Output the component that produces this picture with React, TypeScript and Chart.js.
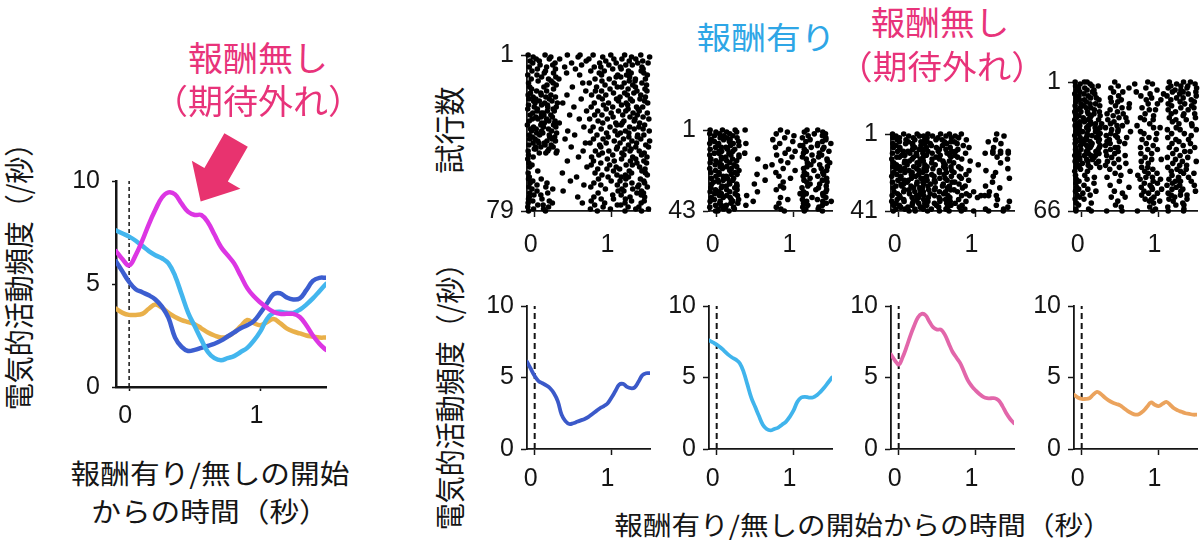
import React, { useEffect, useRef } from 'react';
import { Chart, registerables } from 'chart.js';

Chart.register(...registerables);

// ---------- data ----------
const TIME = [-0.1, -0.05, 0, 0.05, 0.1, 0.15, 0.2, 0.25, 0.3, 0.35, 0.4, 0.45, 0.5, 0.55, 0.6, 0.65, 0.7, 0.75, 0.8, 0.85, 0.9, 0.95, 1, 1.05, 1.1, 1.15, 1.2, 1.25, 1.3, 1.35, 1.4, 1.45, 1.5];

const RATE_REWARD_DARK = [6.1, 5.6, 5.1, 4.75, 4.6, 4.45, 4.25, 3.9, 3.35, 2.4, 1.95, 1.75, 1.8, 1.9, 2.0, 2.1, 2.25, 2.45, 2.65, 2.85, 3.0, 3.2, 3.6, 4.05, 4.5, 4.55, 4.35, 4.25, 4.3, 4.7, 5.15, 5.3, 5.3];
const RATE_REWARD_LIGHT = [7.6, 7.45, 7.3, 7.1, 6.85, 6.6, 6.4, 6.25, 6.0, 5.4, 4.5, 3.6, 2.95, 2.3, 1.7, 1.4, 1.3, 1.4, 1.5, 1.7, 1.9, 2.25, 2.7, 3.3, 3.6, 3.65, 3.6, 3.6, 3.75, 4.0, 4.3, 4.65, 5.0];
const RATE_NOREWARD_PINK = [6.6, 6.2, 5.9, 6.4, 7.1, 7.9, 8.6, 9.2, 9.45, 9.35, 8.9, 8.5, 8.35, 8.35, 8.0, 7.4, 6.8, 6.4, 6.0, 5.4, 4.8, 4.4, 4.1, 3.85, 3.65, 3.55, 3.55, 3.55, 3.4, 3.0, 2.5, 2.1, 1.8];
const RATE_NOREWARD_ORANGE = [3.8, 3.6, 3.5, 3.5, 3.55, 3.8, 4.0, 3.85, 3.6, 3.4, 3.25, 3.15, 3.05, 2.85, 2.65, 2.5, 2.4, 2.45, 2.65, 2.95, 3.25, 3.1, 3.0, 3.15, 3.3, 3.1, 2.85, 2.7, 2.6, 2.5, 2.45, 2.4, 2.4];

const X_TICKS = [0, 1];
const RATE_TICKS = [0, 5, 10];
const TRIAL_COUNTS = [79, 43, 41, 66];

// raster rows: one string per trial, 32 bins of 0.05 s from -0.1 s; a digit d = spike at bin start + d*5 ms
const RASTER_1 = [
  "3...7... ..5..8.. .2...8.. .4...6..", ".6....2. .....3.. ...7.... ...2...9", "..4..8.. 5....... 1.....6. 7...3...",
  "8..2.... .......4 ....5... ..6...1.", ".5.....3 ...6.... ..9....2 ....8..5", "...4..7. ......2. .....3.. .7.4....",
  "6....1.. .8...... .5.2.... 3....9..", "..7....4 ....6... ......3. 5.....2.", ".3..8... ........ 6...1... ..4..7..",
  "....5.9. ..3..... ..8..... ...1..4.", "2.6..... .....7.. ...4...6 .9.....3", "...8...5 ........ .......2 4.7.....",
  ".1...6.. 3....... .7...4.. ....2.8.", "..9...3. ........ ...5.... ..6.1...", "4.....8. ......5. 2.....7. .3...9..",
  ".....2.6 ........ ....3... ...5...1", "7...4... ...8.... ..1....5 6...2...", ".2....9. ........ .....6.. ..3...7.",
  "..5..1.. .......3 .8.4.... ....6..2", "9..6.... ........ ......5. .4.8....", "3..7..2. ..4..... 8...5... ..1..6..",
  ".6..9..4 ........ ..7..... 2.....8.", "5.3..8.. ......1. ...6...3 ..9..4..", ".7.2..5. ........ .......8 ...4..6.",
  "..1.6..9 .3...... .5...2.. .8.....4", "4..8.3.. ........ ...9.... 6.2.....", ".9...4.6 ....2... 7.....3. ....5.1.",
  "2.7...8. ........ ....6... ..3.9...", "..6..3.1 .......5 ..4....8 .7...2..", ".5.72... ........ .....9.. ...6...3",
  "8...4.2. ...1.... .6.5.... 9...7...", "..37..6. ........ ......4. ..8...2.", ".48..1.. .....6.. 3...9... ....1..7",
  "6....7.3 ........ ..5..... .2.9....", "...85..2 4....... ...7...1 8....3..", "1..6..9. ........ .......4 5.....6.",
  ".7..3..5 ......8. .2...6.. ..7..1..", "9.4..6.. ........ ...3.... ...9..2.", ".2.8..4. ..6..... 5.....9. .6.....8",
  "..5.1..7 ........ ....7... 3.5.....", "6..3.8.. ....4... ..2....6 ....8.4.", ".4...9.2 ........ .....1.. ..5.7...",
  "7.1...5. .9...... .3.8.... .1...6..", "..8..2.4 ........ ......7. ...3...9", ".6.15... .......2 4...6... 2...5...",
  "5...7.3. ........ ..9..... ..4...9.", "..26..8. ...5.... ...2...5 ....3..6", ".93..7.. ........ .......3 .5.1....",
  "3....4.8 ......6. .8...3.. ..8..2..", "...29..6 ........ ...6.... 7.....5.", "4....... ........ ..7...3. .2...8..",
  ".6...... .....4.. 8....... ...5...2", "2....... ........ ....9... 6...3...", "........ ..5..... .3....7. ..9...4.",
  "5....... ........ ...2.... ....6..1", ".3...... ........ 7....5.. .8.4....", "7....... .......6 .......2 .....3..",
  "........ ........ ..4.8... 1.....7.", "..8..... ........ ......5. ..6..9..", "3....... .2...... .7...... ...2..8.",
  "........ ........ ...5...4 .6.....3", "6....... ....9... .....1.. 5.4.....", "4..7.... ........ ..6..... .7...5..",
  ".5...... ...3.... .....9.. 2.....4.", "8....2.. ........ .4...... ...3..6.", "..6..... ......8. ...2...5 .6...1..",
  "5...9... ........ 6....... ....8..3", ".3....7. ........ ....4... 7..5....", "..6..... .4...... .......7 .2...8..",
  "7....4.. ........ ..5..... ....6.3.", ".8.6.... ........ ......3. 5....7..", "6....... .....2.. .4...... ..8...6.",
  "4..9.... ........ ...3..5. .6......", ".5...8.. ........ 7....... ...2..5.", "3.....6. ......4. ....2... .5...7..",
  "..8.2... ........ .6.....5 4.......", "2....6.. ........ ...8.... ..3..1..", ".7..3... ........ 5....7.. ....3..6",
  "4...8... ........ ..3..... .5...8..",
];

const RASTER_2 = [
  "3..5..8. .4...... ..6..... .5..3...", ".8..6..2 ........ ....4... 8....6..", "2.7..4.. ........ .5...... ...4..3.",
  ".4.8..2. ........ ......1. .8...5..", "..9.6..3 ........ ...7.... 3.....4.", "6..8.5.. ........ 6....... ..3...4.",
  ".4...3.7 ........ .....8.. .2...5..", "2.5...3. .6...... ..4..... ....3..7", "..3..6.8 ........ .......7 4...2...",
  ".7.24... ........ .3...... ..6..9..", "3...8.7. ........ ....7... 8....6..", "..63..2. ........ ......4. .3.....2",
  ".46..2.. .3...... ...8.... 6...7...", "2....7.8 ........ .6...... ..8..3..", "...24..8 ........ .....6.. 3...5...",
  "5..3..1. ....7... ........ .3....7.", ".8..6..2 ........ ..7..... ...2..8.", "3.7..4.. ........ ....5... .6.....4",
  ".6.2..5. ........ 4....... ..5.8...", "..9.6..2 ......7. ........ .5....8.", "2..5.8.. ........ ...3.... 6....2..",
  ".7...4.8 ........ ......4. ...3..6.", "5.6...7. ........ .4...... 8....6..", "..6..8.3 ....5... ........ .4...8..",
  ".8.75... ........ ..2..... 5...3...", "6...8.4. ........ .....2.. ..3...6.", "..37..2. ......6. ........ 7....5..",
  ".25..3.. ........ ...3.... .4....7.", "7....4.2 ...8.... ........ ..3.8...", "...45..3 ........ ..6..... .7....5.",
  "5..2..7. ........ ...4.... 2...5...", ".7..6..3 ........ .5...... ...8..6.", "3.5..4.. ....6... ........ 6.....4.",
  ".5.2..8. ........ .......7 .3...6..", "..7.6..4 .8...... ........ 5....7..", "6..7.5.. ........ ..6..... ..8...4.",
  ".4...8.7 ........ ....5... 3...2...", "3.9...2. ...5.... ........ .4...6.8", "..8..7.5 ........ ..2..... 6.....5.",
  ".7.25... .6...... ........ .7...5..", "2...3.4. ........ .5...... 4...6...", "..48..6. ........ ..7..... .2..4...",
  ".73..2.. ........ ...6.... 8....5..",
];

const RASTER_3 = [
  "4..3..8. .6..9..2 ..3..... ...5....", ".3..6..4 5.8...3. 7....... .....4..", "5.2..8.. .4..2..7 .6...... ........",
  ".6.9..2. 8..7.3.. ...6.... ...2....", "..2.5..8 .4...9.6 5....... .3......", "5..8.6.. 7.2...5. .2...... ....6...",
  ".3...7.8 ..5..4.. ..8..... ........", "6.3...2. .2.8...4 ....3... ..7.....", "..3..6.4 5...6.3. .4...... ........",
  ".7.24... .6..3..8 8....... ..5.5.5.", "4...9.6. 3.7...6. ...4.... 5.5.5.5.", "..86..7. .2..8..3 6....... ........",
  ".52..9.. 4..7...6 .3...... ...6....", "2....5.6 ..7.6... ..4..... ......3.", "...68..7 4....5.2 ....6... ........",
  "7..5..8. ..6..7.. 3....... ....5...", ".4..2..3 8..5..1. ......7. ........", "5.3..9.. .4...7.6 .6...... ........",
  ".3.5..7. 6.9...2. ..2..... ......4.", "..4.7..3 .2..6..8 ....3... 7.......", "7..6.5.. 3...6.4. 4....... ...2....",
  ".5...3.2 ..6..8.. ...5.... ........", "2.6...4. .3.2...7 .8...... ..6.....", "..5..3.8 6...7.1. ..3..... ......8.",
  ".8.55... .4.3..6. ....2... ........", "4...2.8. 3..5...9 6....... ..4.....", "..63..7. 5.3..6.. .7...... ........",
  ".38..2.. .6...4.2 ...3.... 6.......", "6....9.5 2..5..7. ..6..... ....3...", "...57..6 .8.3...5 4....... ........",
  "8..3..2. 4...6.2. .3...5.. .6......", ".7..8..6 ..2..7.. ...6.... ........", "3.2...7. 5..3..8. ..4.4..4 44.4....",
  "..4..5.2 .7..5..3 ......5. ........", ".6.3..7. 5...8.2. .6...... ...7....", "2..4.8.. .6..7..4 ...5.... ......8.",
  ".3...6.2 8..3..5. 7....... ........", "7.2..5.. .3.8...6 ..5..... ...4....", "..5.4..6 2...4.7. .8...... ......4.",
  ".3.6..2. 4.5...3. ...2.... 6....3..", "6...7.3. .5..6..1 ..3..5.. .4...2..",
];

const RASTER_4 = [
  "3.74.... ..6..... ...2.... 8...5.3.", ".6..2... .......8 ....4... ..7....5", "4...7.3. ...5.... ........ .2.8.6..",
  ".28..... .6....3. ..7..... 5....4.9", "7..4.2.. ........ .....6.. ..38....", ".5..8... ..3.7... 2....... .6..4..7",
  "2.6..4.. ........ ...8...3 ...5.7..", ".3.7.... ...6.... .4...... 2......8", "6...38.. .5...... ....2... ..7.4...",
  ".47...5. ....3... ..8...6. .2....5.", "5..2.... .7.4.... ........ ...6...3", ".8..26.. ......4. ...3.7.. 5...8...",
  "3.5...7. ..8..... ........ .4....6.", ".6.24... ....5.3. .7...... ...8...2", "7....3.. .4...... ...6.2.. 5....7..",
  "28.5..6. ...3.... ........ ..4.....", "4..7.2.. 6...8... ..5..... .3..6..4", ".3..5.8. ..2..... ....7... ....4...",
  "6.4.2... ...7.5.. .3...... 8......6", "2..6..4. 8....... ..3.6... ..5..2..", ".57.3... ..4..8.. ........ .6......",
  "8...46.2 .5...... ...7.... ...3..6.", "35.8.... ...26... 4....... ......7.", "6..3.58. 2....... ....7.4. ..6.....",
  ".4.7..2. .8.5.... ........ 3..6...8", "5.2..6.. ...4..7. .3...... ........", "73.4..8. .6...... ..2..5.. .4..7...",
  "2..57.3. 4.8..... ........ ......5.", ".6.2.8.. ...3.7.. ...5.... 4.......", "4.83..6. .2...... .7...3.. ..5..8..",
  "57..2.4. 6..8.... ........ ...3....", "3.6.7... .4...2.. ..8..... .5....3.", ".7.35.8. 2....... ....6... ....4...",
  "5...2.6. ..74.... .3...... 8......4", "48.6..3. .5...... ...2.7.. ..6.....", "6..2.7.. 3..5.... ........ ....8.2.",
  ".3.8..5. ..6..... .4..2... .7......", "2.7.46.. 5....3.. ........ ...6....", "74...2.. .8...... ..5..... 3....6..",
  ".5.38... ...6.... ....2.7. ..4.....", "3..6..4. 7....... .5...... ....2..8", "6.2..8.. ..4..5.. ...3.... .7......",
  ".4.7.... 2....... ........ ...5.3..", "5...3.7. ...8.... .6.2.... 4.......", ".7...... .3...... ....5... ..8..2..",
  "2..5.... ......6. ..4..... .3.7....", "........ ..7..... ...3.6.. ....5..2", "4.8..... ....2... 6....... .5......",
  ".....3.. 6....... ..7.4... ...2.8..", "6..4.... ........ .2....5. 7.......", ".3...... ...8.... ....6... ..47..5.",
  "5....2.. ........ ..3..7.. .6......", "..6..... .4...... ...8.... 2..5...3", "7....... ......3. .5..2... ..6.....",
  ".2.6.... ........ ....4.8. .5..3...", "4....7.. ..5..... ..2..... ...8...6", "..3..... ....6... ...4.7.. 5.......",
  "8...2... ........ .6...... .3.7.4..", ".5...... .7...3.. ....8... ..2.....", "3.6..... ........ ..5.2... 7....4..",
  "........ ...4.... ...6..3. .8......", "6...5... ........ ....7... ....3...", ".2...... ..8..... ........ ..5.6...",
  "........ ....3... ...7.... 4.......", "5..8.... ........ .....2.. ....6...", "5...5... 5...5... 5...5... 5...5...",
];

const RASTERS = [RASTER_1, RASTER_2, RASTER_3, RASTER_4];
const BIN_START = -0.1;
const BIN_WIDTH = 0.05;
const SUB_STEP = 0.005;

const ARROW_TIP = [0.545, 9.0];

// ---------- styles ----------
const INK = '#151515';
const CJK = "'Noto Sans CJK JP', 'Noto Sans CJK SC', sans-serif";
const NUM = "'Liberation Sans', Arial, sans-serif";
const PINK_TEXT = '#e8337a';
const BLUE_TEXT = '#2ea6e6';

const LEFT_COLORS = { dark: '#3c5ed0', light: '#43b6ee', pink: '#dc36e3', orange: '#e9b04a' };
const PANEL_COLORS = ['#3b59c9', '#40b4ec', '#e266aa', '#eba35d'];
const PANEL_RATES = [RATE_REWARD_DARK, RATE_REWARD_LIGHT, RATE_NOREWARD_PINK, RATE_NOREWARD_ORANGE];

const LEFT_BOX = { left: 66, top: 121, width: 275, height: 311 };
const PANEL_LEFTS = [482, 664, 846, 1029];
const RASTER_AREA_TOPS = [49, 124, 128, 76];
const TICK_SIZE = 25;

function series(values: number[]) {
  return TIME.map((t, i) => ({ x: t, y: values[i] }));
}

function rasterPoints(rows: string[]) {
  const pts: { x: number; y: number }[] = [];
  rows.forEach((row, r) => {
    const cells = row.replace(/ /g, '');
    for (let i = 0; i < cells.length; i++) {
      const c = cells[i];
      if (c >= '1' && c <= '9') pts.push({ x: BIN_START + BIN_WIDTH * i + SUB_STEP * Number(c), y: r + 1 });
    }
  });
  return pts;
}

function xAxis(o: { tickLen: number; pad: number; border: number; size: number; height: number }) {
  return {
    type: 'linear',
    min: -0.1,
    max: 1.5,
    afterBuildTicks: (s: any) => { s.ticks = X_TICKS.map((v) => ({ value: v })); },
    afterFit: (s: any) => { s.height = o.height; },
    grid: { display: true, drawOnChartArea: false, drawTicks: true, tickLength: o.tickLen, tickWidth: 1.5, tickColor: INK, color: INK },
    border: { display: true, color: INK, width: o.border },
    ticks: { font: { family: NUM, size: o.size }, color: INK, padding: o.pad, labelOffset: -4, maxRotation: 0, autoSkip: false, callback: (v: any) => String(v) },
  };
}

function yAxis(o: { min: number; max: number; ticks: number[]; reverse?: boolean; tickLen: number; pad: number; border: number; size: number; width: number }) {
  return {
    type: 'linear',
    min: o.min,
    max: o.max,
    reverse: !!o.reverse,
    afterBuildTicks: (s: any) => { s.ticks = o.ticks.map((v) => ({ value: v })); },
    afterFit: (s: any) => { s.width = o.width; },
    grid: { display: true, drawOnChartArea: false, drawTicks: true, tickLength: o.tickLen, tickWidth: 1.5, tickColor: INK, color: INK },
    border: { display: true, color: INK, width: o.border },
    ticks: { font: { family: NUM, size: o.size }, color: INK, padding: o.pad, autoSkip: false, callback: (v: any) => String(v) },
  };
}

function baseOptions(padding: any, scales: any) {
  return {
    animation: false,
    responsive: false,
    events: [],
    layout: { padding },
    plugins: { legend: { display: false }, tooltip: { enabled: false } },
    scales,
  };
}

function onsetLine(width: number, dash: number[]) {
  return {
    type: 'line',
    data: [{ x: 0, y: 0 }, { x: 0, y: 10 }],
    borderColor: INK,
    borderWidth: width,
    borderDash: dash,
    pointRadius: 0,
    order: 10,
  };
}

function rateLine(values: number[], color: string, width: number, order: number) {
  return {
    type: 'line',
    data: series(values),
    borderColor: color,
    borderWidth: width,
    pointRadius: 0,
    tension: 0.4,
    borderCapStyle: 'round',
    borderJoinStyle: 'round',
    fill: false,
    order,
  };
}

const arrowPlugin = {
  id: 'arrowNote',
  afterDraw(chart: any) {
    const { ctx, scales } = chart;
    const tx = scales.x.getPixelForValue(ARROW_TIP[0]);
    const ty = scales.y.getPixelForValue(ARROW_TIP[1]);
    const ux = 0.499, uy = -0.867, nx = 0.867, ny = 0.499;
    const headLen = 31, headHalf = 28, shaftHalf = 13.5, total = 71;
    const p = (a: number, b: number) => [tx + ux * a + nx * b, ty + uy * a + ny * b];
    const pts = [p(0, 0), p(headLen, headHalf), p(headLen, shaftHalf), p(total, shaftHalf), p(total, -shaftHalf), p(headLen, -shaftHalf), p(headLen, -headHalf)];
    ctx.save();
    ctx.fillStyle = '#e8336f';
    ctx.beginPath();
    pts.forEach(([x, y], i) => (i ? ctx.lineTo(x, y) : ctx.moveTo(x, y)));
    ctx.closePath();
    ctx.fill();
    ctx.restore();
  },
};

type TextSpec = { text: string; x: number; y: number; size: number; color?: string; rotate?: boolean; stretch?: number };

const TEXTS: TextSpec[] = [
  { text: '報酬無し', x: 258, y: 57, size: 34, color: PINK_TEXT, stretch: 1.03 },
  { text: '（期待外れ）', x: 258, y: 100, size: 34, color: PINK_TEXT, stretch: 1.03 },
  { text: '報酬有り', x: 766, y: 35, size: 31, color: BLUE_TEXT, stretch: 1.12 },
  { text: '報酬無し', x: 940, y: 21, size: 33, color: PINK_TEXT, stretch: 1.05 },
  { text: '（期待外れ）', x: 942, y: 65, size: 33, color: PINK_TEXT, stretch: 1.05 },
  { text: '報酬有り/無しの開始', x: 210, y: 472, size: 27, stretch: 1.1 },
  { text: 'からの時間（秒）', x: 210, y: 510, size: 27, stretch: 1.1 },
  { text: '報酬有り/無しの開始からの時間（秒）', x: 863, y: 524, size: 26, stretch: 1.1 },
  { text: '電気的活動頻度（/秒）', x: 17, y: 270, size: 27, rotate: true, stretch: 1.1 },
  { text: '試行数', x: 448, y: 130, size: 29, rotate: true, stretch: 1.05 },
  { text: '電気的活動頻度（/秒）', x: 448, y: 390, size: 27, rotate: true, stretch: 1.1 },
];

export default function App() {
  const leftRef = useRef<HTMLCanvasElement | null>(null);
  const rasterRefs = useRef<(HTMLCanvasElement | null)[]>([]);
  const rateRefs = useRef<(HTMLCanvasElement | null)[]>([]);

  useEffect(() => {
    const charts: Chart[] = [];

    if (leftRef.current) {
      charts.push(
        new Chart(leftRef.current, {
          type: 'line',
          data: {
            datasets: [
              onsetLine(1.5, [4, 3]),
              rateLine(RATE_NOREWARD_ORANGE, LEFT_COLORS.orange, 4.5, 5),
              rateLine(RATE_REWARD_DARK, LEFT_COLORS.dark, 4.5, 4),
              rateLine(RATE_REWARD_LIGHT, LEFT_COLORS.light, 4.5, 3),
              rateLine(RATE_NOREWARD_PINK, LEFT_COLORS.pink, 4.5, 2),
            ] as any,
          },
          options: baseOptions({ top: 60, right: 15, left: 0, bottom: 0 }, {
            x: xAxis({ tickLen: 4, pad: 10, border: 2.5, size: TICK_SIZE, height: 45 }),
            y: yAxis({ min: 0, max: 10, ticks: RATE_TICKS, tickLen: 4, pad: 12, border: 2.5, size: TICK_SIZE, width: 50 }),
          }) as any,
          plugins: [arrowPlugin],
        })
      );
    }

    RASTERS.forEach((rows, k) => {
      const cv = rasterRefs.current[k];
      if (!cv) return;
      const n = TRIAL_COUNTS[k];
      charts.push(
        new Chart(cv, {
          type: 'scatter',
          data: {
            datasets: [
              {
                data: rasterPoints(rows),
                pointRadius: 2.8,
                pointBackgroundColor: '#000',
                pointBorderWidth: 0,
                showLine: false,
                clip: false,
              } as any,
            ],
          },
          options: baseOptions({ top: 16, right: 10, left: 0, bottom: 0 }, {
            x: xAxis({ tickLen: 6, pad: 13, border: 1.8, size: TICK_SIZE, height: 45 }),
            y: yAxis({ min: 1, max: n, ticks: [1, n], reverse: true, tickLen: 6, pad: 7, border: 1.8, size: TICK_SIZE, width: 45 }),
          }) as any,
        })
      );
    });

    PANEL_RATES.forEach((vals, k) => {
      const cv = rateRefs.current[k];
      if (!cv) return;
      charts.push(
        new Chart(cv, {
          type: 'line',
          data: { datasets: [onsetLine(2, [6, 4]), rateLine(vals, PANEL_COLORS[k], 3.8, 1)] as any },
          options: baseOptions({ top: 16, right: 10, left: 0, bottom: 0 }, {
            x: xAxis({ tickLen: 6, pad: 9, border: 1.8, size: TICK_SIZE, height: 45 }),
            y: yAxis({ min: 0, max: 10, ticks: RATE_TICKS, tickLen: 6, pad: 7, border: 1.8, size: TICK_SIZE, width: 45 }),
          }) as any,
        })
      );
    });

    return () => charts.forEach((c) => c.destroy());
  }, []);

  return (
    <div style={{ position: 'absolute', left: 0, top: 0, width: 1200, height: 543, background: '#fff', overflow: 'hidden' }}>
      <canvas
        ref={leftRef}
        width={LEFT_BOX.width}
        height={LEFT_BOX.height}
        style={{ position: 'absolute', left: LEFT_BOX.left, top: LEFT_BOX.top, width: LEFT_BOX.width, height: LEFT_BOX.height }}
      />
      {RASTERS.map((_, k) => {
        const top = RASTER_AREA_TOPS[k] - 16;
        const h = 211 - RASTER_AREA_TOPS[k] + 16 + 45;
        return (
          <canvas
            key={'r' + k}
            ref={(el) => { rasterRefs.current[k] = el; }}
            width={178}
            height={h}
            style={{ position: 'absolute', left: PANEL_LEFTS[k], top, width: 178, height: h }}
          />
        );
      })}
      {PANEL_RATES.map((_, k) => (
        <canvas
          key={'p' + k}
          ref={(el) => { rateRefs.current[k] = el; }}
          width={178}
          height={210}
          style={{ position: 'absolute', left: PANEL_LEFTS[k], top: 284, width: 178, height: 210 }}
        />
      ))}
      {TEXTS.map((t, i) => (
        <div
          key={'t' + i}
          style={{
            position: 'absolute',
            left: t.x,
            top: t.y,
            transform: t.rotate
              ? `translate(-50%, -50%) rotate(-90deg) scaleY(${t.stretch ?? 1})`
              : `translate(-50%, -50%) scaleX(${t.stretch ?? 1})`,
            fontFamily: CJK,
            fontSize: t.size,
            lineHeight: 1,
            whiteSpace: 'nowrap',
            color: t.color ?? INK,
          }}
        >
          {t.text}
        </div>
      ))}
    </div>
  );
}
